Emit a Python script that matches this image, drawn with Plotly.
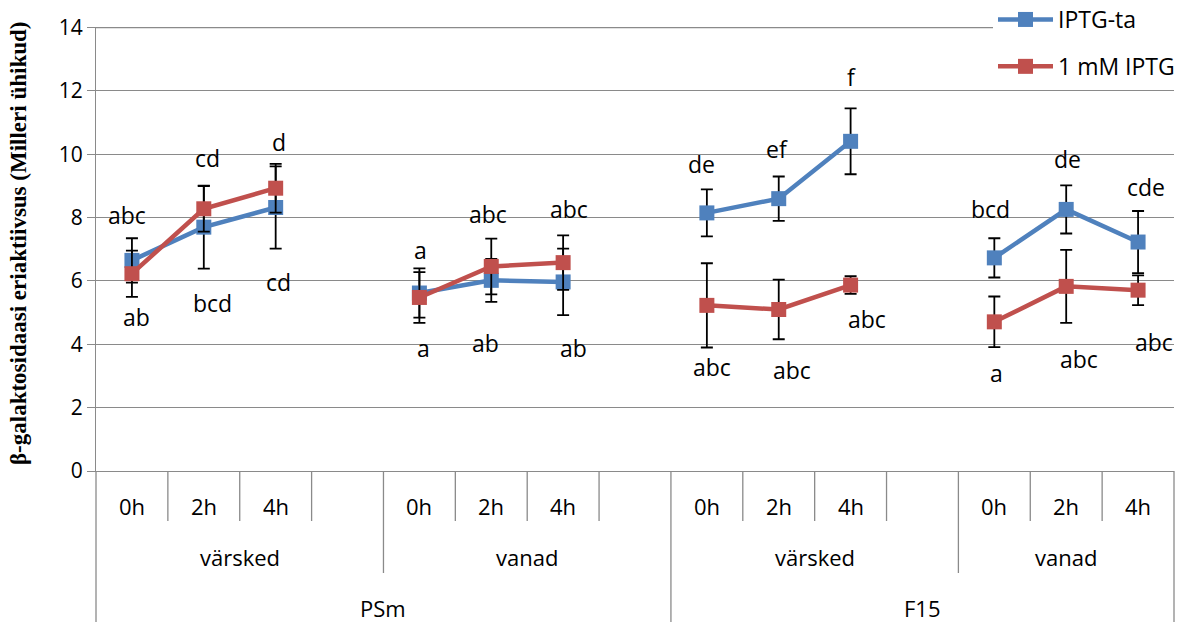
import plotly.graph_objects as go

# ---------------- data ----------------
strain = ["PSm"] * 8 + ["F15"] * 7
state = ["värsked"] * 4 + ["vanad"] * 4 + ["värsked"] * 4 + ["vanad"] * 3
time_lbl = ["0h", "2h", "4h", "", "0h", "2h", "4h", "", "0h", "2h", "4h", "", "0h", "2h", "4h"]

iptg_ta = [6.65, 7.70, 8.32, None, 5.62, 6.02, 5.97, None, 8.15, 8.60, 10.41, None, 6.73, 8.26, 7.23]
iptg_ta_err = [0.70, 1.31, 1.30, None, 0.78, 0.68, 1.05, None, 0.74, 0.70, 1.04, None, 0.62, 0.76, 0.98]
iptg_1mm = [6.23, 8.28, 8.93, None, 5.48, 6.46, 6.58, None, 5.23, 5.10, 5.87, None, 4.71, 5.83, 5.71]
iptg_1mm_err = [0.73, 0.72, 0.77, None, 0.80, 0.88, 0.86, None, 1.33, 0.94, 0.28, None, 0.80, 1.15, 0.47]

upper_letters = ["abc", "cd", "d", "", "a", "abc", "abc", "", "de", "ef", "f", "", "bcd", "de", "cde"]
lower_letters = ["ab", "bcd", "cd", "", "a", "ab", "ab", "", "abc", "abc", "abc", "", "a", "abc", "abc"]

y_ticks = [0, 2, 4, 6, 8, 10, 12, 14]

# ---------------- layout helpers (positions, not data) ----------------
upper_pos = [8.07, 9.87, 10.39, None, 6.97, 8.13, 8.28, None, 9.70, 10.18, 12.43, None, 8.28, 9.86, 8.97]
lower_pos = [4.87, 5.30, 5.97, None, 3.87, 4.03, 3.87, None, 3.29, 3.18, 4.81, None, 3.08, 3.55, 4.08]
upper_dx = [-5, 4, 3, 0, 1, -3, 6, 0, -5, -2, 1, 0, -4, 1, 8]
lower_dx = [5, 9, 3, 0, 4, -6, 10, 0, 5, 13, 16, 0, 2, 13, 16]

W, H = 1181, 622
ML, MR, MT, MB = 96, 7, 27, 151
PH = H - MT - MB
N = len(time_lbl)
x = list(range(N))

BLUE = "#4F81BD"
RED = "#C0504D"
GRID = "#8A8A8A"
FONT = "Open Sans"


def py_to_paper(py):
    return (H - MB - py) / PH


fig = go.Figure()

for name, vals, err, col, grp in [
    ("IPTG-ta", iptg_ta, iptg_ta_err, BLUE, "a"),
    ("1 mM IPTG", iptg_1mm, iptg_1mm_err, RED, "b"),
]:
    fig.add_trace(go.Scatter(
        x=x, y=vals, name=name, mode="lines+markers", legendgroup=grp,
        line=dict(color=col, width=4.5),
        marker=dict(symbol="square", size=15, color=col, line=dict(color=col, width=0)),
        error_y=dict(type="data", array=err, visible=True, color="black",
                     thickness=1.8, width=6),
        connectgaps=False,
    ))

annotations = []
# significance letters
for i in range(N):
    if upper_letters[i]:
        annotations.append(dict(x=i, y=upper_pos[i], xref="x", yref="y", text=upper_letters[i],
                                showarrow=False, xshift=upper_dx[i], yanchor="middle",
                                font=dict(family=FONT, size=23, color="black")))
    if lower_letters[i]:
        annotations.append(dict(x=i, y=lower_pos[i], xref="x", yref="y", text=lower_letters[i],
                                showarrow=False, xshift=lower_dx[i], yanchor="middle",
                                font=dict(family=FONT, size=23, color="black")))

# hierarchical category axis
lvl_y = [py_to_paper(506), py_to_paper(557), py_to_paper(608)]
for i in range(N):
    if time_lbl[i]:
        annotations.append(dict(x=i, y=lvl_y[0], xref="x", yref="paper", text=time_lbl[i],
                                showarrow=False, yanchor="middle",
                                font=dict(family=FONT, size=22, color="black")))


def runs(labels):
    out = []
    start = 0
    for i in range(1, len(labels) + 1):
        if i == len(labels) or labels[i] != labels[start] or (labels is state and strain[i] != strain[start]):
            out.append((start, i - 1, labels[start]))
            start = i
    return out


for (a, b, lab) in runs(state):
    annotations.append(dict(x=(a + b) / 2, y=lvl_y[1], xref="x", yref="paper", text=lab,
                            showarrow=False, yanchor="middle",
                            font=dict(family=FONT, size=22, color="black")))
for (a, b, lab) in runs(strain):
    annotations.append(dict(x=(a + b) / 2, y=lvl_y[2], xref="x", yref="paper", text=lab,
                            showarrow=False, yanchor="middle",
                            font=dict(family=FONT, size=22, color="black")))

# y-axis title
annotations.append(dict(x=(18 - ML) / (W - ML - MR), y=py_to_paper(244), xref="paper", yref="paper",
                        text="β-galaktosidaasi eriaktiivsus (Milleri ühikud)", textangle=-90,
                        showarrow=False, xanchor="center", yanchor="middle",
                        font=dict(family="Liberation Serif", size=23, color="black", weight="bold")))

shapes = []
short_y, mid_y, long_y = py_to_paper(521), py_to_paper(573), py_to_paper(H + 2)
for k in range(N + 1):
    if k == 0 or k == N or strain[k] != strain[k - 1]:
        y1 = long_y
    elif state[k] != state[k - 1]:
        y1 = mid_y
    else:
        y1 = short_y
    shapes.append(dict(type="line", xref="paper", yref="paper", x0=k / N, x1=k / N,
                       y0=0, y1=y1, line=dict(color=GRID, width=1.3)))
# top gridline (at the upper end of the range)
shapes.append(dict(type="line", xref="paper", yref="y", x0=0, x1=1, y0=y_ticks[-1], y1=y_ticks[-1],
                   layer="below", line=dict(color=GRID, width=1.3)))

fig.update_layout(
    width=W, height=H,
    margin=dict(l=ML, r=MR, t=MT, b=MB, pad=0, autoexpand=False),
    paper_bgcolor="white", plot_bgcolor="white",
    font=dict(family=FONT, size=20, color="black"),
    showlegend=True,
    legend=dict(x=(993 - ML) / (W - ML - MR), y=py_to_paper(-2), xanchor="left", yanchor="top",
                bgcolor="white", borderwidth=0, font=dict(family=FONT, size=23, color="black"),
                traceorder="grouped", tracegroupgap=14, itemwidth=55),
    xaxis=dict(range=[-0.5, N - 0.5], showgrid=False, zeroline=False, showticklabels=False,
               ticks="", showline=True, linecolor=GRID, linewidth=1.3),
    yaxis=dict(range=[0, 14.02], tickvals=y_ticks, showgrid=True, gridcolor=GRID, gridwidth=1.3,
               zeroline=False, showline=True, linecolor=GRID, linewidth=1.3,
               ticks="outside", ticklen=8, tickcolor=GRID, tickwidth=1.3,
               tickfont=dict(family=FONT, size=21, color="black")),
    annotations=annotations,
    shapes=shapes,
)

fig.write_html("out.html")
